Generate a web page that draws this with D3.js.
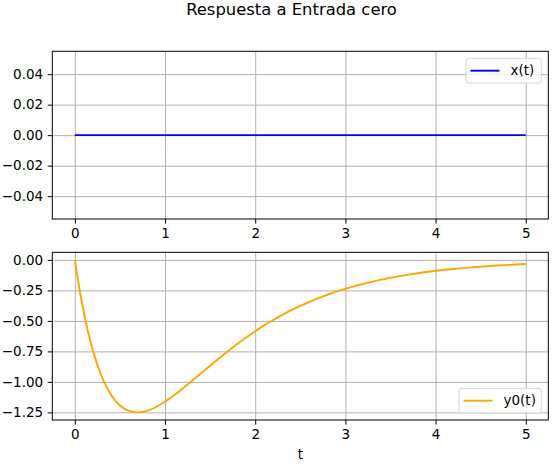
<!DOCTYPE html>
<html>
<head>
<meta charset="utf-8">
<script src="https://cdn.jsdelivr.net/npm/d3@7"></script>
<style>
  body { margin: 0; background: #fff; }
  text { font-family: "DejaVu Sans", sans-serif; }
</style>
</head>
<body>
<script>
// datos
const tiempoX = [0, 1, 2, 3, 4, 5];
const valoresX = [0, 0, 0, 0, 0, 0];

const tiempoY = [
  0, 0.05, 0.1, 0.15, 0.2, 0.3, 0.4, 0.5, 0.6, 0.7, 0.8, 0.9, 1.0,
  1.1, 1.2, 1.3, 1.4, 1.5, 1.6, 1.7, 1.8, 1.9, 2.0,
  2.1, 2.2, 2.3, 2.4, 2.5, 2.6, 2.7, 2.8, 2.9, 3.0,
  3.1, 3.2, 3.3, 3.4, 3.5, 3.6, 3.7, 3.8, 3.9, 4.0,
  4.1, 4.2, 4.3, 4.4, 4.5, 4.6, 4.7, 4.8, 4.9, 5.0,
];
const valoresY = [
  0, -0.232, -0.431, -0.599, -0.742, -0.96, -1.105, -1.193, -1.238, -1.25, -1.237, -1.206, -1.163,
  -1.11, -1.052, -0.991, -0.929, -0.867, -0.806, -0.747, -0.69, -0.636, -0.585,
  -0.537, -0.493, -0.451, -0.412, -0.377, -0.344, -0.313, -0.286, -0.26, -0.237,
  -0.215, -0.196, -0.178, -0.161, -0.146, -0.133, -0.121, -0.109, -0.099, -0.09,
  -0.081, -0.074, -0.067, -0.061, -0.055, -0.05, -0.045, -0.041, -0.037, -0.033,
];

const ticksT = [0, 1, 2, 3, 4, 5];
const ticksArriba = [-0.04, -0.02, 0, 0.02, 0.04];
const ticksAbajo = [-1.25, -1.0, -0.75, -0.5, -0.25, 0];

const titulo = "Respuesta a Entrada cero";
const etiquetaX = "t";
const leyendaX = "x(t)";
const leyendaY = "y0(t)";

const width = 552;
const height = 464;
const margin = { left: 52.3, right: 3.7 };
const tamLetra = 13.5;

const svg = d3
  .select("body")
  .append("svg")
  .attr("width", width)
  .attr("height", height);

svg
  .append("text")
  .attr("x", 291.5)
  .attr("y", 15)
  .attr("text-anchor", "middle")
  .attr("font-size", 16.4)
  .text(titulo);

// margen del 5% como matplotlib
const tMin = d3.min(tiempoY);
const tMax = d3.max(tiempoY);
const padT = (tMax - tMin) * 0.05;
const escalaX = d3
  .scaleLinear()
  .domain([tMin - padT, tMax + padT])
  .range([margin.left, width - margin.right]);

const yMin = d3.min(valoresY);
const yMax = d3.max(valoresY);
const padY = (yMax - yMin) * 0.05;

const paneles = [
  {
    top: 51.3,
    bottom: 219,
    dominio: [-0.055, 0.055],
    ticks: ticksArriba,
    t: tiempoX,
    v: valoresX,
    color: "blue",
    leyenda: leyendaX,
    esquina: "arriba",
  },
  {
    top: 252.3,
    bottom: 420,
    dominio: [yMin - padY, yMax + padY],
    ticks: ticksAbajo,
    t: tiempoY,
    v: valoresY,
    color: "orange",
    leyenda: leyendaY,
    esquina: "abajo",
  },
];

paneles.forEach((p) => {
  const escalaY = d3
    .scaleLinear()
    .domain(p.dominio)
    .range([p.bottom, p.top]);

  const g = svg.append("g");
  const anchoInt = width - margin.right - margin.left;
  const altoInt = p.bottom - p.top;

  // grilla
  g.append("g")
    .attr("transform", `translate(0, ${p.bottom})`)
    .call(d3.axisBottom(escalaX).tickValues(ticksT).tickSize(-altoInt).tickFormat(""))
    .call((s) => s.select(".domain").remove())
    .selectAll("line")
    .attr("stroke", "#b0b0b0")
    .attr("stroke-width", 1);

  g.append("g")
    .attr("transform", `translate(${margin.left}, 0)`)
    .call(d3.axisLeft(escalaY).tickValues(p.ticks).tickSize(-anchoInt).tickFormat(""))
    .call((s) => s.select(".domain").remove())
    .selectAll("line")
    .attr("stroke", "#b0b0b0")
    .attr("stroke-width", 1);

  // linea de datos
  const puntos = p.t.map((t, j) => [t, p.v[j]]);
  g.append("path")
    .datum(puntos)
    .attr("fill", "none")
    .attr("stroke", p.color)
    .attr("stroke-width", 1.9)
    .attr("stroke-linejoin", "round")
    .attr("d", d3.line()
      .x((d) => escalaX(d[0]))
      .y((d) => escalaY(d[1]))
      .curve(d3.curveMonotoneX));

  // ejes
  const ejeX = g
    .append("g")
    .attr("transform", `translate(0, ${p.bottom})`)
    .call(d3.axisBottom(escalaX).tickValues(ticksT).tickSize(4.6).tickPadding(4.6).tickFormat(d3.format("d")));
  const ejeY = g
    .append("g")
    .attr("transform", `translate(${margin.left}, 0)`)
    .call(d3.axisLeft(escalaY).tickValues(p.ticks).tickSize(4.6).tickPadding(4.6).tickFormat(d3.format(".2f")));

  [ejeX, ejeY].forEach((e) => {
    e.select(".domain").remove();
    e.selectAll("text")
      .attr("font-size", tamLetra)
      .attr("font-family", "DejaVu Sans")
      .attr("fill", "#000");
    e.selectAll("line").attr("stroke", "#000").attr("stroke-width", 1);
  });

  g.append("rect")
    .attr("x", margin.left)
    .attr("y", p.top)
    .attr("width", anchoInt)
    .attr("height", altoInt)
    .attr("fill", "none")
    .attr("stroke", "#000")
    .attr("stroke-width", 1);

  // leyenda
  const anchoLey = p.leyenda.length > 4 ? 82.3 : 75.3;
  const xLey = width - margin.right - 7 - anchoLey;
  const yLey = p.esquina === "arriba" ? p.top + 7 : p.bottom - 7 - 24.7;
  const ley = g.append("g").attr("transform", `translate(${xLey}, ${yLey})`);
  ley.append("rect")
    .attr("width", anchoLey)
    .attr("height", 24.7)
    .attr("rx", 3)
    .attr("fill", "#fff")
    .attr("fill-opacity", 0.8)
    .attr("stroke", "#d5d5d5")
    .attr("stroke-width", 1);
  ley.append("line")
    .attr("x1", 4.5)
    .attr("x2", 33.5)
    .attr("y1", 12.4)
    .attr("y2", 12.4)
    .attr("stroke", p.color)
    .attr("stroke-width", 1.9);
  ley.append("text")
    .attr("x", 44.5)
    .attr("y", 17)
    .attr("font-size", tamLetra)
    .text(p.leyenda);
});

svg
  .append("text")
  .attr("x", (margin.left + width - margin.right) / 2)
  .attr("y", 459)
  .attr("text-anchor", "middle")
  .attr("font-size", tamLetra)
  .text(etiquetaX);
</script>
</body>
</html>
